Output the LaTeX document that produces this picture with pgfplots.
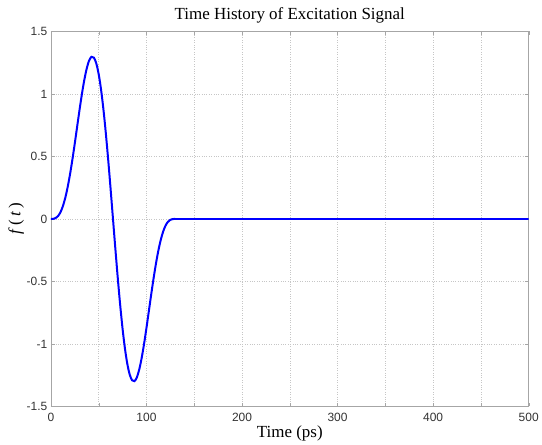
\documentclass[border=0pt]{standalone}
\usepackage{fontspec}
\setmainfont{Liberation Serif}
\setsansfont{Liberation Sans}
\usepackage{pgfplots}
\pgfplotsset{compat=1.18}

\begin{document}
\begin{tikzpicture}
\begin{axis}[
    scale only axis,
    width=479pt, height=376pt,
    xmin=0, xmax=500, ymin=-1.5, ymax=1.5,
    xtick={0,50,...,500},
    xticklabels={0,,100,,200,,300,,400,,500},
    ytick={-1.5,-1,...,1.5},
    yticklabels={-1.5,-1,-0.5,0,0.5,1,1.5},
    tick align=inside,
    major tick length=4pt,
    axis line style={gray!70},
    tick style={gray!70},
    grid=major,
    major grid style={dotted, gray!45},
    ticklabel style={font=\sffamily\fontsize{12}{14}\selectfont, text=black!80},
    xticklabel style={yshift=-3pt},
    /pgf/number format/assume math mode=true,
    title={Time History of Excitation Signal},
    title style={font=\fontsize{17}{20}\selectfont, yshift=-1pt},
    xlabel={Time (ps)},
    xlabel style={font=\fontsize{17}{20}\selectfont, yshift=3pt},
    ylabel={\textit{f}\,(\,\textit{t}\,)},
    ylabel style={font=\fontsize{17}{20}\selectfont, yshift=-4pt},
]
\addplot[blue, line width=2pt, smooth] coordinates {
    (0,0) (2.5,0.00088) (5,0.00696) (7.5,0.02305) (10,0.0532) (12.5,0.1006)
    (15,0.1668) (17.5,0.2522) (20,0.3555) (22.5,0.4740) (25,0.6034)
    (27.5,0.7386) (30,0.8731) (32.5,1.0) (35,1.1123) (37.5,1.2032)
    (40,1.2666) (42.5,1.2970) (45,1.2906) (47.5,1.2448) (50,1.1594)
    (52.5,1.0357) (55,0.8762) (57.5,0.6862) (60,0.4716) (62.5,0.2401)
    (65,0)
    (67.5,-0.2401) (70,-0.4716) (72.5,-0.6862) (75,-0.8762) (77.5,-1.0357)
    (80,-1.1594) (82.5,-1.2448) (85,-1.2906) (87.5,-1.2970) (90,-1.2666)
    (92.5,-1.2032) (95,-1.1123) (97.5,-1.0) (100,-0.8731) (102.5,-0.7386)
    (105,-0.6034) (107.5,-0.4740) (110,-0.3555) (112.5,-0.2522)
    (115,-0.1668) (117.5,-0.1006) (120,-0.0532) (122.5,-0.02305)
    (125,-0.00696) (127.5,-0.00088) (130,0)
};
\addplot[blue, line width=2pt] coordinates {(130,0) (500,0)};
\end{axis}
\path ([xshift=-5pt,yshift=4pt]current bounding box.north west);
\end{tikzpicture}
\end{document}
